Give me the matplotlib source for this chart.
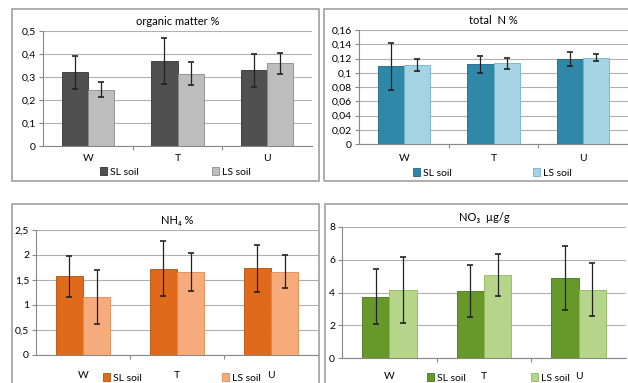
import matplotlib
matplotlib.use('Agg')
import matplotlib.pyplot as plt
from matplotlib.patches import Rectangle
import numpy as np

plt.rcParams['font.family'] = ['Liberation Sans Narrow', 'Lato', 'DejaVu Sans']

# data
sites = ['W', 'T', 'U']
series = ['SL soil', 'LS soil']

om_sl = [0.32, 0.37, 0.33]
om_sl_err = [0.07, 0.10, 0.072]
om_ls = [0.245, 0.315, 0.36]
om_ls_err = [0.033, 0.051, 0.045]

n_sl = [0.109, 0.112, 0.119]
n_sl_err = [0.033, 0.012, 0.010]
n_ls = [0.111, 0.113, 0.121]
n_ls_err = [0.009, 0.008, 0.005]

nh4_sl = [1.58, 1.73, 1.74]
nh4_sl_err = [0.41, 0.55, 0.47]
nh4_ls = [1.17, 1.66, 1.67]
nh4_ls_err = [0.54, 0.38, 0.33]

no3_sl = [3.75, 4.08, 4.88]
no3_sl_err = [1.68, 1.6, 1.95]
no3_ls = [4.15, 5.05, 4.18]
no3_ls_err = [2.0, 1.28, 1.6]

W, H = 628, 383
fig = plt.figure(figsize=(W/100, H/100), dpi=100)
fig.patch.set_facecolor('white')


def px(x0, y0, x1, y1):
    # pixel box (top-left origin) -> figure fraction
    return [x0/W, 1-y1/H, (x1-x0)/W, (y1-y0)/H]


def panel(box, ax_box, title, sl, sl_err, ls, ls_err, colors, ylim, yticks, ylabels,
          xlab_y, leg_y, leg_x):
    # panel frame
    fig.patches.append(Rectangle((box[0]/W, 1-box[3]/H), (box[2]-box[0])/W, (box[3]-box[1])/H,
                                 transform=fig.transFigure, fill=False, ec='#a0a0a0', lw=1.2))
    ax = fig.add_axes(px(*ax_box))
    x = np.arange(len(sites))
    bw = 0.29
    ax.bar(x-bw/2, sl, bw, color=colors[0], edgecolor=colors[2], lw=0.6, zorder=3, label=series[0])
    ax.bar(x+bw/2, ls, bw, color=colors[1], edgecolor=colors[3], lw=0.6, zorder=3, label=series[1])
    ax.errorbar(x-bw/2, sl, yerr=sl_err, fmt='none', ecolor='#222222', elinewidth=0.9,
                capsize=2.5, capthick=1.2, zorder=4)
    ax.errorbar(x+bw/2, ls, yerr=ls_err, fmt='none', ecolor='#222222', elinewidth=0.9,
                capsize=2.5, capthick=1.2, zorder=4)
    ax.set_xlim(-0.5, 2.5)
    ax.set_ylim(*ylim)
    ax.set_yticks(yticks)
    ax.set_yticklabels(ylabels, fontsize=7.5)
    ax.set_xticks([0.5, 1.5])
    ax.set_xticklabels([])
    ax.tick_params(axis='x', length=3, color='#888888')
    ax.tick_params(axis='y', length=3, color='#888888', pad=2)
    ax.yaxis.grid(True, color='#b0b0b0', lw=0.8, zorder=0)
    for s in ['top', 'right']:
        ax.spines[s].set_visible(False)
    ax.spines['left'].set_color('#888888')
    ax.spines['bottom'].set_color('#888888')
    ax.set_title(title, fontsize=8, pad=4)
    for i, s in enumerate(sites):
        ax.text(x[i], xlab_y, s, ha='center', va='center', fontsize=7.5)
    h, l = ax.get_legend_handles_labels()
    for hi, li, lx in zip(h, l, leg_x):
        fig.legend([hi], [li], loc='center left', bbox_to_anchor=(lx/W, 1-leg_y/H),
                   frameon=False, fontsize=7.5, handlelength=0.7, handleheight=0.7,
                   handletextpad=0.3, borderpad=0, borderaxespad=0)
    return ax


gray = ['#505050', '#bdbdbd', '#333333', '#8a8a8a']
blue = ['#2f88a8', '#a4d3e4', '#1f6680', '#6fb2cc']
orange = ['#e06a1c', '#f5ab7c', '#b24f0e', '#e08850']
green = ['#66982a', '#b7d58a', '#4a7418', '#8fb85a']

panel((12, 9, 319, 181), (43, 31, 312, 146), 'organic matter %', om_sl, om_sl_err, om_ls, om_ls_err,
      gray, (0, 0.5), [0, 0.1, 0.2, 0.3, 0.4, 0.5], ['0', '0,1', '0,2', '0,3', '0,4', '0,5'],
      -0.053, 172, [100, 212])

panel((324, 9, 640, 181), (359, 30, 628, 144), 'total  N %', n_sl, n_sl_err, n_ls, n_ls_err,
      blue, (0, 0.16), np.arange(0, 0.161, 0.02),
      ['0', '0,02', '0,04', '0,06', '0,08', '0,1', '0,12', '0,14', '0,16'],
      -0.021, 173, [413, 533])

panel((12, 204, 319, 400), (36, 230, 318, 355), 'NH₄ %', nh4_sl, nh4_sl_err, nh4_ls, nh4_ls_err,
      orange, (0, 2.5), [0, 0.5, 1, 1.5, 2, 2.5], ['0', '0,5', '1', '1,5', '2', '2,5'],
      -0.4, 378, [103, 222])

panel((325, 204, 640, 400), (342, 227, 626, 358), 'NO₃  µg/g', no3_sl, no3_sl_err, no3_ls, no3_ls_err,
      green, (0, 8), [0, 2, 4, 6, 8], ['0', '2', '4', '6', '8'],
      -1.1, 378, [427, 531])

fig.savefig('out.png', dpi=100)
